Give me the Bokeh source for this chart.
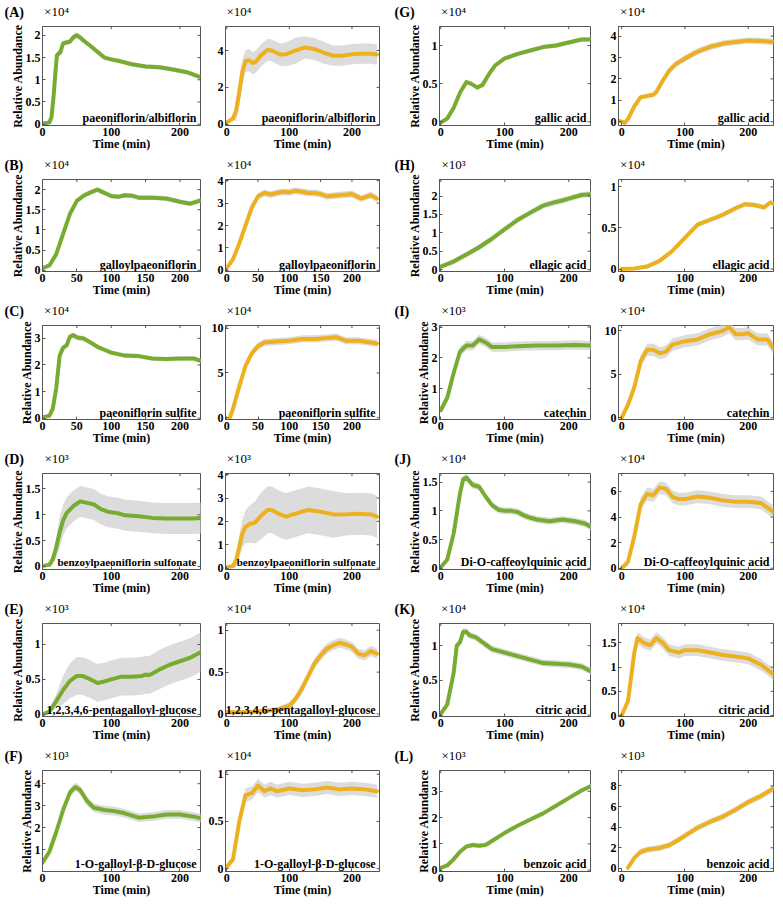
from bokeh.plotting import figure
from bokeh.layouts import gridplot
from bokeh.models import (Range1d, FixedTicker, Label, NumeralTickFormatter, LinearAxis,
                          CustomJSTickFormatter, Title)
from bokeh.embed import file_html
from bokeh.resources import INLINE

FONT = "Liberation Serif"
GREEN = "#77AC30"
ORANGE = "#EDB120"
BAND = "#dcdcdc"
AXC = "#555555"

# ---------------- data (values in units of the panel's x10^n multiplier) -------------
A1_t = [0, 5, 10, 13, 16, 19, 21, 26, 30, 35, 40, 45, 50, 55, 60, 70, 80, 90, 100, 115, 130, 150, 170, 190, 210, 228]
A1_y = [0.02, 0.02, 0.04, 0.15, 0.6, 1.2, 1.55, 1.62, 1.82, 1.84, 1.86, 1.96, 2.0, 1.95, 1.88, 1.76, 1.63, 1.5, 1.46, 1.41, 1.35, 1.3, 1.28, 1.23, 1.17, 1.07]
A1_s = [0.02, 0.02, 0.03, 0.1, 0.2, 0.2, 0.1, 0.07, 0.06, 0.06, 0.06, 0.07, 0.07, 0.07, 0.06, 0.06, 0.06, 0.05, 0.05, 0.05, 0.05, 0.05, 0.05, 0.05, 0.05, 0.05]

A2_t = [0, 5, 10, 15, 20, 25, 30, 35, 42, 47, 55, 65, 72, 85, 95, 110, 125, 140, 155, 170, 185, 200, 215, 230, 240]
A2_y = [0.12, 0.2, 0.33, 0.75, 1.75, 2.83, 3.42, 3.48, 3.32, 3.42, 3.75, 4.03, 4.0, 3.78, 3.8, 4.0, 4.17, 4.08, 3.88, 3.72, 3.72, 3.8, 3.83, 3.83, 3.78]
A2_s = [0.05, 0.05, 0.05, 0.6, 0.8, 0.7, 0.6, 0.6, 0.6, 0.6, 0.6, 0.6, 0.6, 0.6, 0.65, 0.7, 0.6, 0.6, 0.6, 0.55, 0.55, 0.55, 0.55, 0.55, 0.55]

B1_t = [0, 10, 20, 30, 40, 50, 60, 70, 80, 90, 100, 110, 120, 130, 140, 160, 180, 200, 215, 230]
B1_y = [0.05, 0.12, 0.4, 0.9, 1.4, 1.72, 1.85, 1.93, 2.0, 1.92, 1.84, 1.82, 1.86, 1.85, 1.8, 1.8, 1.78, 1.7, 1.65, 1.73]
B1_s = [0.03, 0.04, 0.05, 0.06, 0.06, 0.06, 0.06, 0.06, 0.06, 0.06, 0.06, 0.06, 0.06, 0.06, 0.06, 0.06, 0.06, 0.06, 0.06, 0.06]

B2_t = [0, 10, 20, 30, 40, 50, 60, 70, 80, 90, 100, 110, 120, 130, 140, 150, 160, 180, 200, 215, 230, 240]
B2_y = [0.1, 0.5, 1.2, 2.0, 2.8, 3.3, 3.45, 3.38, 3.45, 3.5, 3.48, 3.55, 3.5, 3.45, 3.45, 3.4, 3.3, 3.35, 3.4, 3.2, 3.35, 3.2]
B2_s = [0.05, 0.1, 0.15, 0.15, 0.15, 0.15, 0.15, 0.15, 0.15, 0.15, 0.15, 0.15, 0.15, 0.15, 0.15, 0.15, 0.15, 0.15, 0.15, 0.15, 0.15, 0.15]

C1_t = [0, 10, 15, 20, 25, 30, 35, 40, 45, 50, 60, 70, 80, 90, 100, 120, 140, 160, 180, 200, 220, 233]
C1_y = [0.03, 0.09, 0.36, 1.13, 2.35, 2.65, 2.73, 3.06, 3.12, 3.03, 2.99, 2.84, 2.68, 2.57, 2.46, 2.35, 2.33, 2.24, 2.22, 2.24, 2.24, 2.13]
C1_s = [0.03, 0.04, 0.1, 0.2, 0.15, 0.1, 0.1, 0.1, 0.1, 0.1, 0.1, 0.08, 0.08, 0.08, 0.08, 0.08, 0.08, 0.08, 0.08, 0.08, 0.08, 0.08]

C2_t = [5, 10, 20, 30, 40, 50, 60, 80, 100, 120, 140, 160, 175, 190, 210, 230, 240]
C2_y = [0.0, 1.0, 3.5, 5.8, 7.2, 8.0, 8.4, 8.5, 8.6, 8.8, 8.8, 8.9, 9.0, 8.6, 8.6, 8.4, 8.3]
C2_s = [0.1, 0.3, 0.4, 0.4, 0.4, 0.4, 0.4, 0.4, 0.4, 0.4, 0.4, 0.4, 0.4, 0.4, 0.4, 0.4, 0.4]

D1_t = [0, 10, 15, 20, 25, 30, 35, 45, 55, 65, 75, 85, 95, 110, 120, 140, 160, 180, 200, 220, 235]
D1_y = [0.01, 0.03, 0.14, 0.37, 0.66, 0.89, 1.03, 1.17, 1.26, 1.23, 1.2, 1.11, 1.06, 1.03, 0.99, 0.97, 0.94, 0.93, 0.93, 0.93, 0.94]
D1_s = [0.02, 0.03, 0.1, 0.2, 0.3, 0.3, 0.3, 0.3, 0.3, 0.3, 0.3, 0.3, 0.3, 0.3, 0.3, 0.3, 0.3, 0.3, 0.3, 0.3, 0.3]

D2_t = [0, 10, 15, 20, 25, 30, 37, 45, 55, 65, 72, 85, 95, 110, 130, 150, 170, 190, 210, 230, 240]
D2_y = [0.03, 0.09, 0.34, 0.91, 1.48, 1.77, 1.89, 1.95, 2.24, 2.49, 2.49, 2.3, 2.2, 2.33, 2.49, 2.41, 2.3, 2.3, 2.33, 2.3, 2.2]
D2_s = [0.02, 0.05, 0.3, 0.5, 0.6, 0.7, 0.8, 0.9, 1.0, 1.0, 1.0, 1.0, 1.0, 1.0, 1.0, 1.0, 1.0, 0.9, 0.9, 0.9, 0.9]

E1_t = [0, 10, 20, 30, 40, 50, 58, 70, 80, 90, 100, 115, 130, 145, 150, 155, 170, 185, 200, 215, 230]
E1_y = [0.0, 0.04, 0.19, 0.35, 0.48, 0.55, 0.55, 0.5, 0.45, 0.47, 0.5, 0.54, 0.54, 0.55, 0.57, 0.56, 0.64, 0.71, 0.76, 0.81, 0.89]
E1_s = [0.01, 0.03, 0.1, 0.2, 0.25, 0.27, 0.27, 0.27, 0.27, 0.27, 0.27, 0.27, 0.27, 0.27, 0.27, 0.27, 0.28, 0.28, 0.28, 0.28, 0.28]

E2_t = [0, 20, 50, 80, 100, 110, 120, 130, 140, 150, 160, 170, 180, 190, 200, 210, 220, 230, 240]
E2_y = [0.02, 0.02, 0.03, 0.05, 0.1, 0.18, 0.3, 0.45, 0.6, 0.7, 0.78, 0.82, 0.85, 0.83, 0.8, 0.72, 0.7, 0.75, 0.72]
E2_s = [0.02, 0.02, 0.02, 0.03, 0.04, 0.05, 0.06, 0.06, 0.06, 0.06, 0.06, 0.06, 0.06, 0.06, 0.06, 0.06, 0.06, 0.06, 0.06]

F1_t = [0, 10, 20, 30, 40, 48, 55, 65, 75, 90, 105, 120, 140, 160, 180, 200, 220, 235]
F1_y = [0.4, 0.9, 1.8, 2.8, 3.6, 3.85, 3.7, 3.2, 2.9, 2.8, 2.75, 2.65, 2.45, 2.5, 2.6, 2.6, 2.5, 2.4]
F1_s = [0.1, 0.15, 0.2, 0.2, 0.2, 0.2, 0.2, 0.2, 0.2, 0.2, 0.2, 0.2, 0.2, 0.2, 0.2, 0.2, 0.2, 0.2]

F2_t = [0, 10, 20, 30, 40, 50, 60, 70, 80, 100, 120, 140, 160, 180, 200, 220, 240]
F2_y = [0.02, 0.1, 0.5, 0.78, 0.8, 0.88, 0.82, 0.85, 0.82, 0.85, 0.83, 0.84, 0.86, 0.84, 0.85, 0.84, 0.82]
F2_s = [0.02, 0.04, 0.07, 0.07, 0.07, 0.07, 0.07, 0.07, 0.07, 0.07, 0.07, 0.07, 0.07, 0.07, 0.07, 0.07, 0.07]

G1_t = [0, 10, 20, 30, 40, 47, 57, 65, 75, 85, 100, 120, 140, 160, 180, 200, 220, 234]
G1_y = [-0.01, 0.04, 0.18, 0.38, 0.52, 0.5, 0.45, 0.48, 0.62, 0.74, 0.83, 0.89, 0.935, 0.98, 1.0, 1.04, 1.08, 1.08]
G1_s = [0.01, 0.02, 0.03, 0.03, 0.03, 0.03, 0.03, 0.03, 0.03, 0.03, 0.03, 0.03, 0.03, 0.03, 0.03, 0.03, 0.03, 0.03]

G2_t = [-5, 0, 5, 10, 20, 30, 40, 50, 55, 65, 75, 85, 100, 120, 140, 160, 180, 200, 220, 240]
G2_y = [0.05, 0.0, -0.06, 0.12, 0.72, 1.14, 1.2, 1.26, 1.4, 1.92, 2.38, 2.68, 2.95, 3.28, 3.5, 3.65, 3.73, 3.79, 3.77, 3.73]
G2_s = [0.05, 0.05, 0.05, 0.08, 0.1, 0.1, 0.1, 0.1, 0.12, 0.12, 0.15, 0.15, 0.15, 0.15, 0.15, 0.15, 0.15, 0.15, 0.15, 0.15]

H1_t = [0, 20, 40, 60, 80, 100, 120, 140, 160, 180, 190, 200, 220, 235]
H1_y = [0.08, 0.22, 0.41, 0.61, 0.84, 1.1, 1.35, 1.55, 1.74, 1.84, 1.88, 1.93, 2.03, 2.05]
H1_s = [0.05, 0.08, 0.08, 0.08, 0.08, 0.08, 0.08, 0.08, 0.08, 0.08, 0.08, 0.08, 0.08, 0.08]

H2_t = [0, 20, 40, 60, 80, 100, 120, 140, 160, 180, 195, 210, 225, 235, 245]
H2_y = [0.0, 0.007, 0.03, 0.1, 0.22, 0.38, 0.54, 0.6, 0.66, 0.74, 0.79, 0.78, 0.75, 0.81, 0.78]
H2_s = [0.01, 0.01, 0.02, 0.03, 0.03, 0.03, 0.03, 0.03, 0.03, 0.03, 0.03, 0.03, 0.03, 0.03, 0.03]

I1_t = [0, 10, 20, 30, 40, 50, 60, 70, 80, 100, 120, 150, 180, 210, 235]
I1_y = [0.3, 0.7, 1.5, 2.2, 2.4, 2.4, 2.6, 2.5, 2.35, 2.35, 2.38, 2.4, 2.4, 2.42, 2.4]
I1_s = [0.1, 0.15, 0.15, 0.15, 0.15, 0.15, 0.15, 0.15, 0.15, 0.15, 0.15, 0.15, 0.15, 0.15, 0.15]

I2_t = [0, 10, 20, 30, 40, 50, 60, 70, 80, 100, 120, 140, 160, 170, 180, 190, 200, 215, 230, 240]
I2_y = [0.0, 1.5, 3.5, 6.5, 7.8, 7.8, 7.4, 7.6, 8.4, 8.8, 9.0, 9.6, 10.0, 10.4, 9.6, 9.6, 9.7, 9.0, 9.0, 8.0]
I2_s = [0.2, 0.5, 0.7, 0.7, 0.7, 0.7, 0.7, 0.7, 0.7, 0.7, 0.7, 0.7, 0.7, 0.7, 0.7, 0.7, 0.7, 0.7, 0.7, 0.7]

J1_t = [0, 10, 20, 30, 35, 40, 50, 60, 70, 80, 90, 100, 110, 120, 130, 140, 150, 170, 190, 210, 225, 235]
J1_y = [0.02, 0.15, 0.6, 1.3, 1.55, 1.58, 1.45, 1.42, 1.25, 1.1, 1.02, 1.0, 1.0, 0.98, 0.92, 0.88, 0.85, 0.82, 0.85, 0.82, 0.78, 0.72]
J1_s = [0.02, 0.04, 0.06, 0.06, 0.06, 0.06, 0.06, 0.06, 0.06, 0.06, 0.06, 0.06, 0.06, 0.06, 0.06, 0.06, 0.06, 0.06, 0.06, 0.06, 0.06, 0.06]

J2_t = [0, 10, 20, 30, 40, 50, 60, 70, 80, 90, 100, 120, 140, 160, 180, 200, 220, 240]
J2_y = [0.0, 0.5, 2.5, 5.0, 5.8, 5.7, 6.3, 6.2, 5.6, 5.4, 5.4, 5.6, 5.5, 5.3, 5.2, 5.2, 5.1, 4.4]
J2_s = [0.1, 0.3, 0.5, 0.5, 0.5, 0.5, 0.5, 0.5, 0.5, 0.5, 0.5, 0.5, 0.5, 0.5, 0.5, 0.5, 0.5, 0.5]

K1_t = [0, 10, 20, 25, 30, 35, 40, 45, 55, 65, 80, 100, 120, 140, 160, 180, 200, 220, 235]
K1_y = [0.02, 0.15, 0.6, 1.0, 1.05, 1.2, 1.2, 1.15, 1.12, 1.05, 0.95, 0.9, 0.85, 0.8, 0.75, 0.74, 0.73, 0.7, 0.63]
K1_s = [0.02, 0.04, 0.05, 0.05, 0.05, 0.05, 0.05, 0.05, 0.05, 0.05, 0.05, 0.05, 0.05, 0.05, 0.05, 0.05, 0.05, 0.05, 0.05]

K2_t = [0, 10, 20, 25, 35, 45, 55, 65, 75, 90, 100, 120, 140, 160, 180, 200, 220, 240]
K2_y = [0.0, 0.3, 1.3, 1.6, 1.5, 1.45, 1.6, 1.5, 1.35, 1.3, 1.35, 1.35, 1.3, 1.25, 1.22, 1.18, 1.05, 0.85]
K2_s = [0.03, 0.08, 0.12, 0.12, 0.12, 0.12, 0.12, 0.12, 0.12, 0.12, 0.12, 0.12, 0.12, 0.12, 0.12, 0.12, 0.12, 0.12]

L1_t = [0, 10, 20, 30, 40, 50, 60, 70, 80, 100, 120, 140, 160, 180, 200, 220, 235]
L1_y = [0.09, 0.18, 0.41, 0.7, 0.9, 0.96, 0.93, 0.96, 1.11, 1.42, 1.69, 1.93, 2.16, 2.45, 2.74, 3.03, 3.2]
L1_s = [0.05, 0.06, 0.08, 0.08, 0.08, 0.08, 0.08, 0.08, 0.08, 0.08, 0.08, 0.08, 0.08, 0.08, 0.08, 0.08, 0.08]

L2_t = [10, 20, 30, 40, 50, 60, 75, 90, 105, 120, 140, 160, 180, 200, 220, 240]
L2_y = [0.06, 1.02, 1.6, 1.81, 1.9, 1.99, 2.25, 2.78, 3.36, 3.95, 4.53, 5.03, 5.7, 6.43, 7.02, 7.75]
L2_s = [0.1, 0.25, 0.3, 0.3, 0.3, 0.3, 0.3, 0.3, 0.3, 0.3, 0.3, 0.3, 0.3, 0.3, 0.3, 0.3]

NAMES = {
    "A": "paeoniflorin/albiflorin", "B": "galloylpaeoniflorin", "C": "paeoniflorin sulfite",
    "D": "benzoylpaeoniflorin sulfonate", "E": "1,2,3,4,6-pentagalloyl-glucose",
    "F": "1-O-galloyl-\u03b2-D-glucose", "G": "gallic acid", "H": "ellagic acid",
    "I": "catechin", "J": "Di-O-caffeoylquinic acid", "K": "citric acid", "L": "benzoic acid",
}
NAME_SIZE = {"D": "11px"}

X_TICKS_100 = [0, 100, 200]
X_TICKS_50 = [0, 50, 100, 150, 200]

# (letter, side, t, y, spread, y-limits, y-ticks, exponent)
PANELS = [
    ("A", 0, A1_t, A1_y, A1_s, (-0.03, 2.2), [0, 0.5, 1, 1.5, 2], 4),
    ("A", 1, A2_t, A2_y, A2_s, (-0.06, 5.3), [0, 2, 4], 4),
    ("B", 0, B1_t, B1_y, B1_s, (-0.03, 2.25), [0, 0.5, 1, 1.5, 2], 4),
    ("B", 1, B2_t, B2_y, B2_s, (-0.05, 4.05), [0, 1, 2, 3, 4], 4),
    ("C", 0, C1_t, C1_y, C1_s, (-0.05, 3.48), [0, 1, 2, 3], 4),
    ("C", 1, C2_t, C2_y, C2_s, (-0.2, 10.3), [0, 5, 10], 4),
    ("D", 0, D1_t, D1_y, D1_s, (-0.06, 1.8), [0, 0.5, 1, 1.5], 3),
    ("D", 1, D2_t, D2_y, D2_s, (-0.06, 4.05), [0, 1, 2, 3, 4], 3),
    ("E", 0, E1_t, E1_y, E1_s, (-0.03, 1.3), [0, 0.5, 1], 3),
    ("E", 1, E2_t, E2_y, E2_s, (-0.03, 1.08), [0, 0.5, 1], 4),
    ("F", 0, F1_t, F1_y, F1_s, (0.0, 4.6), [1, 2, 3, 4], 3),
    ("F", 1, F2_t, F2_y, F2_s, (-0.03, 1.04), [0, 0.5, 1], 4),
    ("G", 0, G1_t, G1_y, G1_s, (-0.05, 1.25), [0, 0.5, 1], 4),
    ("G", 1, G2_t, G2_y, G2_s, (-0.18, 4.45), [0, 1, 2, 3, 4], 4),
    ("H", 0, H1_t, H1_y, H1_s, (-0.05, 2.45), [0, 0.5, 1, 1.5, 2], 3),
    ("H", 1, H2_t, H2_y, H2_s, (-0.03, 1.09), [0, 0.5, 1], 4),
    ("I", 0, I1_t, I1_y, I1_s, (0.0, 3.05), [0, 1, 2, 3], 3),
    ("I", 1, I2_t, I2_y, I2_s, (-0.2, 10.6), [0, 5, 10], 4),
    ("J", 0, J1_t, J1_y, J1_s, (-0.02, 1.65), [0, 0.5, 1, 1.5], 4),
    ("J", 1, J2_t, J2_y, J2_s, (-0.1, 7.4), [0, 2, 4, 6], 4),
    ("K", 0, K1_t, K1_y, K1_s, (-0.02, 1.32), [0, 0.5, 1], 4),
    ("K", 1, K2_t, K2_y, K2_s, (-0.02, 1.9), [0, 0.5, 1, 1.5], 4),
    ("L", 0, L1_t, L1_y, L1_s, (-0.05, 3.79), [0, 1, 2, 3], 3),
    ("L", 1, L2_t, L2_y, L2_s, (-0.3, 9.5), [0, 2, 4, 6, 8], 3),
]

# ---------------- layout geometry (pixels) ----------------
COL_EDGE = [0, 205, 390, 592, 783]
FRAME_LEFT = [42, 218, 439, 618]
FRAME_W = [158, 161, 151, 155]
XLIM = [(0, 230), (-2, 244), (-2, 234), (-5, 240)]
ROW_TOP = [24, 172, 318, 466, 616, 763]
FH = 108
TOPB = 19
PAGE_H = 905
SUP = {3: "\u00b3", 4: "\u2074"}
MULT_HALF_W = 13   # half width of the "x10^n" text, px


def make_panel(letter, side, t, y, s, ylim, yticks, exp):
    half = 0 if letter in "ABCDEF" else 1
    r = "ABCDEF".index(letter) if half == 0 else "GHIJKL".index(letter)
    c = half * 2 + side
    W = COL_EDGE[c + 1] - COL_EDGE[c]
    lb = FRAME_LEFT[c] - COL_EDGE[c]
    fw = FRAME_W[c]
    rb = W - lb - fw
    top_edge = 0 if r == 0 else ROW_TOP[r] - TOPB
    bot_edge = PAGE_H if r == 5 else ROW_TOP[r + 1] - TOPB
    H = bot_edge - top_edge
    tb = ROW_TOP[r] - top_edge
    bb = H - tb - FH
    x0, x1 = XLIM[c]
    y0, y1 = ylim
    kw = {} if side == 0 else {"title_location": None}
    p = figure(width=W, height=H, x_range=Range1d(x0, x1), y_range=Range1d(y0, y1),
               output_backend="svg", toolbar_location=None, tools="",
               min_border_left=lb, min_border_right=rb, min_border_top=tb, min_border_bottom=bb, **kw)
    p.grid.visible = False
    p.outline_line_color = AXC
    p.background_fill_color = "white"
    p.border_fill_color = "white"

    color = GREEN if side == 0 else ORANGE
    lower = [a - b for a, b in zip(y, s)]
    upper = [a + b for a, b in zip(y, s)]
    p.varea(x=t, y1=lower, y2=upper, fill_color=BAND, fill_alpha=1.0)
    p.line(t, y, line_width=4, color=color, line_join="round", line_cap="round")

    xt = X_TICKS_50 if letter in "BC" else X_TICKS_100
    p.xaxis.ticker = FixedTicker(ticks=xt)
    p.yaxis.ticker = FixedTicker(ticks=yticks)
    p.yaxis.formatter = NumeralTickFormatter(format="0.[0]")
    for ax in (p.xaxis[0], p.yaxis[0]):
        ax.axis_line_color = AXC
        ax.major_tick_line_color = AXC
        ax.major_tick_in = 3
        ax.major_tick_out = 0
        ax.minor_tick_line_color = None
        ax.major_label_text_font = FONT
        ax.major_label_text_font_style = "bold"
        ax.major_label_text_font_size = "12px"
        ax.major_label_text_color = "black"
        ax.major_label_standoff = 2
        ax.axis_label_text_font = FONT
        ax.axis_label_text_font_style = "bold"
        ax.axis_label_text_font_size = "12px"
        ax.axis_label_text_color = "black"
    p.xaxis.axis_label = "Time (min)"
    p.xaxis.axis_label_standoff = -2
    if side == 0:
        p.yaxis.axis_label = "Relative Abundance"
        p.yaxis.axis_label_standoff = -2

    dx = (x1 - x0) / fw
    dy = (y1 - y0) / FH
    # inward box ticks on top and right edges
    p.segment(x0=xt, y0=[y1] * len(xt), x1=xt, y1=[y1 - 3 * dy] * len(xt), line_color=AXC, line_width=1)
    p.segment(x0=[x1] * len(yticks), y0=yticks, x1=[x1 - 3 * dx] * len(yticks), y1=yticks,
              line_color=AXC, line_width=1)

    # multiplier "x10^n" as the single label of an invisible top axis
    mult = "\u00d710" + SUP[exp]
    top = LinearAxis(ticker=FixedTicker(ticks=[x0 + (MULT_HALF_W + 1) * dx]),
                     formatter=CustomJSTickFormatter(code="return '%s';" % mult),
                     axis_line_color=None, major_tick_line_color=None, minor_tick_line_color=None,
                     major_label_standoff=2, major_label_text_font=FONT,
                     major_label_text_font_size="13px", major_label_text_color="black")
    p.add_layout(top, "above")

    # panel letter as the plot title, shifted into the top-left corner
    if side == 0:
        ttl = Title(text="(" + letter + ")", align="left", vertical_align="bottom", offset=-(lb - 4),
                    text_font=FONT, text_font_size="14px", text_font_style="bold", text_color="black")
        try:
            ttl.standoff = -38
        except Exception:
            ttl.standoff = 0
        p.title = ttl

    p.add_layout(Label(x=x1 - 4 * dx, y=y0 + 8 * dy, text=NAMES[letter],
                       text_font=FONT, text_font_size=NAME_SIZE.get(letter, "12px"), text_font_style="bold",
                       text_color="black", text_baseline="alphabetic", text_align="right"))
    return p, r, c


grid = [[None] * 4 for _ in range(6)]
for spec in PANELS:
    fig, r, c = make_panel(*spec)
    grid[r][c] = fig

layout = gridplot(grid, toolbar_location=None)
open("out.html", "w").write(file_html(layout, INLINE))
